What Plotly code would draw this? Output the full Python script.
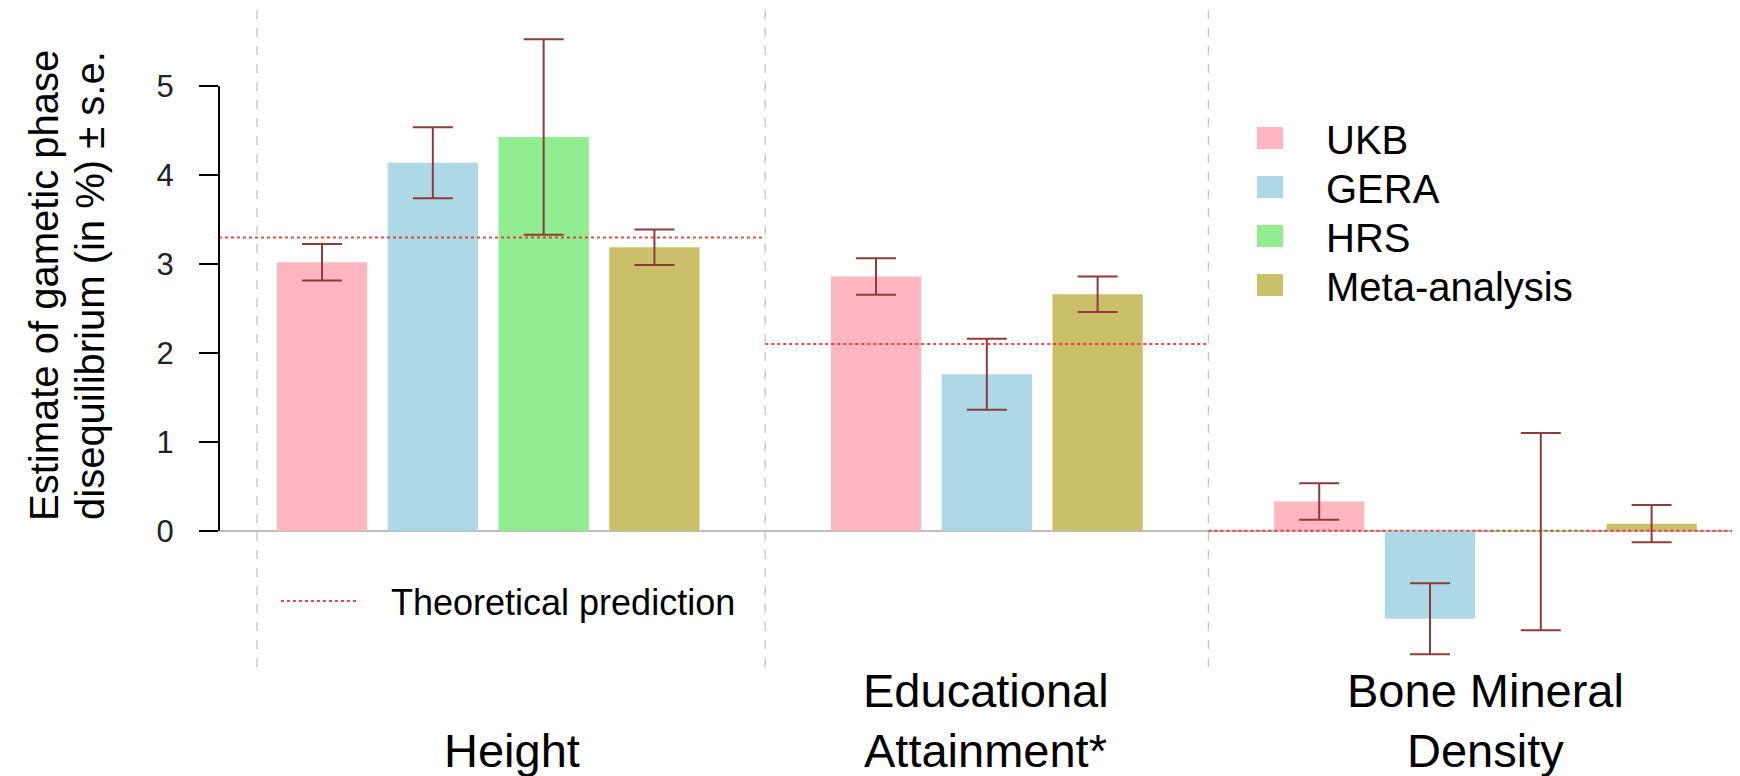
import plotly.graph_objects as go

# ---------------- data ----------------
traits = ["Height", "Educational Attainment*", "Bone Mineral Density"]
trait_lines = [["Height"], ["Educational", "Attainment*"], ["Bone Mineral", "Density"]]
series = ["UKB", "GERA", "HRS", "Meta-analysis"]
colors = ["#FFB6C1", "#ADD8E6", "#90EE90", "#C9C069"]

ukb_est = [3.02, 2.86, 0.33]
ukb_se = [0.205, 0.205, 0.205]
gera_est = [4.14, 1.76, -0.99]
gera_se = [0.40, 0.40, 0.40]
hrs_est = [4.43, None, -0.01]
hrs_se = [1.10, None, 1.11]
meta_est = [3.19, 2.66, 0.08]
meta_se = [0.20, 0.20, 0.21]

theory = [3.3, 2.1, 0.0]
yticks = [0, 1, 2, 3, 4, 5]

estimates = [ukb_est, gera_est, hrs_est, meta_est]
errors = [ukb_se, gera_se, hrs_se, meta_se]

# ---------------- layout helpers ----------------
W, H = 1740, 776
ML, MT, MR, MB = 211, 0, 0, 117
PW, PH = W - ML - MR, H - MT - MB
XR = [-0.93, 12.87]
YR = [-1.533, 5.881]

def px_x(px):
    return (px - ML) / PW

def px_y(py):
    return (H - MB - py) / PH

group_start = [0, 5, 9]
separators = [-0.587, 4, 8]
label_x = [1.715, 5.99, 10.5]

fig = go.Figure()

# bars: each group places present series consecutively
for s, name in enumerate(series):
    xs, ys, es = [], [], []
    for g in range(len(traits)):
        present = [k for k in range(len(series)) if estimates[k][g] is not None]
        if estimates[s][g] is None:
            continue
        xs.append(group_start[g] + present.index(s))
        ys.append(estimates[s][g])
        es.append(errors[s][g])
    fig.add_trace(go.Bar(
        x=xs, y=ys, width=0.815, name=name,
        marker=dict(color=colors[s], line=dict(width=0)),
        error_y=dict(type="data", array=es, visible=True,
                     color="#8E3B3B", thickness=2, width=20),
        showlegend=False,
    ))

# theoretical prediction segments
seg_bounds = [XR[0]] + separators[1:] + [XR[1]]
for g, t in enumerate(theory):
    fig.add_trace(go.Scatter(
        x=[seg_bounds[g], seg_bounds[g + 1]], y=[t, t], mode="lines",
        line=dict(color="rgba(235,40,40,0.85)", width=2, dash="dot"),
        showlegend=False, hoverinfo="skip",
    ))

shapes = []
# vertical dashed separators
for sx in separators:
    shapes.append(dict(type="line", xref="x", yref="paper", x0=sx, x1=sx, y0=0, y1=1,
                       line=dict(color="#C4C4C4", width=1.3, dash="dash"), layer="below"))
# y axis line from 0 to 5 (R style)
shapes.append(dict(type="line", xref="paper", yref="y", x0=0, x1=0, y0=0, y1=5,
                   line=dict(color="black", width=2)))
# legend squares
leg_y = [130, 179, 228, 277]
for s in range(len(series)):
    shapes.append(dict(type="rect", xref="paper", yref="paper",
                       x0=px_x(1249), x1=px_x(1275), y0=px_y(leg_y[s] + 11), y1=px_y(leg_y[s] - 11),
                       fillcolor=colors[s], line=dict(width=0)))
# theoretical prediction key
shapes.append(dict(type="line", xref="paper", yref="paper", x0=px_x(273), x1=px_x(350),
                   y0=px_y(593), y1=px_y(593),
                   line=dict(color="rgba(235,40,40,0.85)", width=2, dash="dot")))

annotations = []
font = "Liberation Sans, Arial, sans-serif"
for s, name in enumerate(series):
    annotations.append(dict(text=name, xref="paper", yref="paper", x=px_x(1316), y=px_y(leg_y[s] + 2),
                            xanchor="left", yanchor="middle", showarrow=False,
                            font=dict(size=40, color="black", family=font)))
annotations.append(dict(text="Theoretical prediction", xref="paper", yref="paper",
                        x=px_x(381), y=px_y(594), xanchor="left", yanchor="middle",
                        showarrow=False, font=dict(size=36, color="black", family=font)))
# category labels, one annotation per line, last line aligned at the bottom row
line_centers = [682, 742]
for g, lines in enumerate(trait_lines):
    rows = line_centers[-len(lines):]
    for txt, cy in zip(lines, rows):
        annotations.append(dict(text=txt, xref="x", yref="paper", x=label_x[g], y=px_y(cy),
                                xanchor="center", yanchor="middle", showarrow=False,
                                font=dict(size=47, color="black", family=font)))
# y-axis title (two lines)
annotations.append(dict(text="Estimate of gametic phase", xref="paper", yref="paper",
                        x=px_x(36), y=px_y(278), xanchor="center", yanchor="middle",
                        textangle=-90, showarrow=False, font=dict(size=40, color="black", family=font)))
annotations.append(dict(text="disequilibrium (in %) ± s.e.", xref="paper", yref="paper",
                        x=px_x(82), y=px_y(278), xanchor="center", yanchor="middle",
                        textangle=-90, showarrow=False, font=dict(size=40, color="black", family=font)))

fig.update_layout(
    width=W, height=H,
    margin=dict(l=ML, r=MR, t=MT, b=MB),
    paper_bgcolor="white", plot_bgcolor="white",
    barmode="overlay",
    shapes=shapes, annotations=annotations,
    xaxis=dict(range=XR, showgrid=False, zeroline=False, showticklabels=False,
               showline=False, ticks=""),
    yaxis=dict(range=YR, tickvals=yticks, ticktext=[str(v) for v in yticks],
               showgrid=False, zeroline=True, zerolinecolor="#BDBDBD", zerolinewidth=1.5,
               showline=False, ticks="outside", ticklen=19, tickwidth=2, tickcolor="black",
               ticklabelstandoff=19, automargin=False,
               tickfont=dict(size=31, color="#222222", family=font)),
    showlegend=False,
    font=dict(family=font),
)

fig.write_html("out.html")
